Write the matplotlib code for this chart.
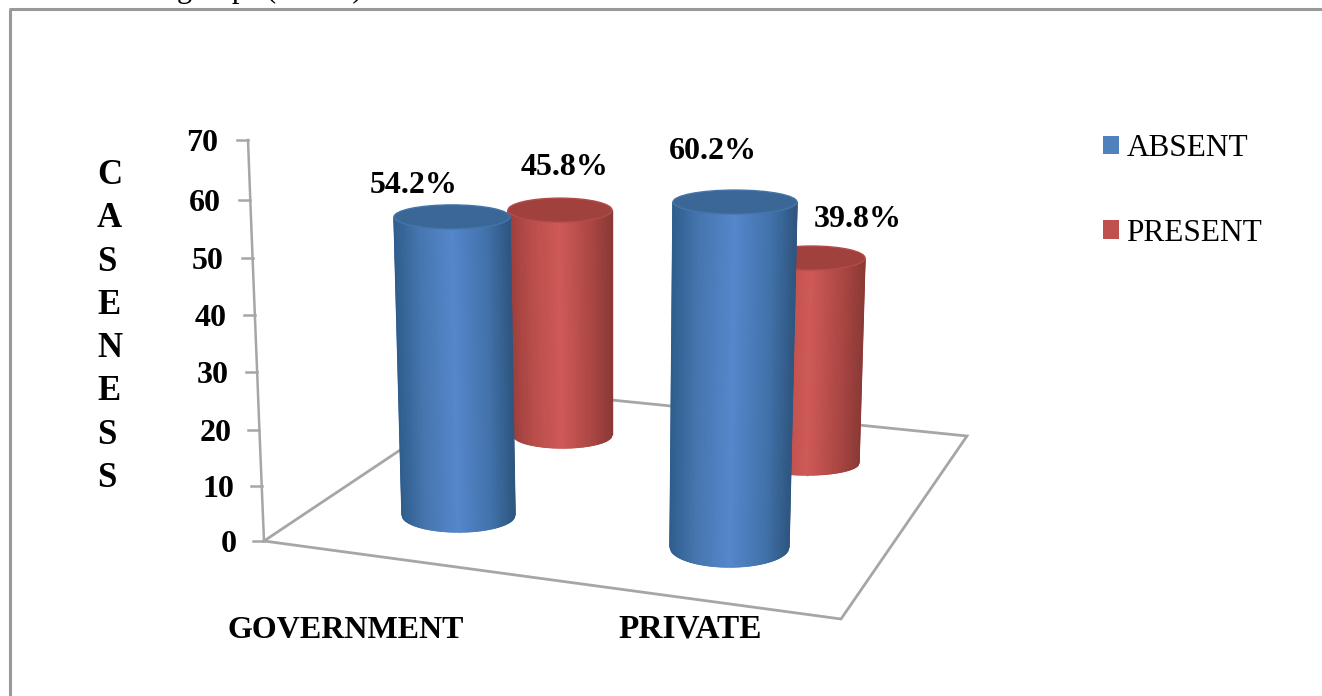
import numpy as np
import matplotlib
matplotlib.use("Agg")
import matplotlib.pyplot as plt
from matplotlib.collections import LineCollection
from matplotlib.colors import LinearSegmentedColormap
from matplotlib.patches import Ellipse, Patch

plt.rcParams['font.family'] = ['Liberation Serif', 'DejaVu Serif']

categories = ["GOVERNMENT", "PRIVATE"]
absent = [54.2, 60.2]
present = [45.8, 39.8]
y_ticks = [0, 10, 20, 30, 40, 50, 60, 70]
y_title = "CASENESS"

# screen layout, everything below is in pixels
W, H = 1322, 696
tick_px = [541, 486, 430, 372, 315, 258, 200, 140]
floor = [(264, 541), (841, 619), (967, 436), (493, 388), (264, 541)]
grey = "#a6a6a6"

blue_map = LinearSegmentedColormap.from_list("blue3d", [
    (0, "#2f5e8e"), (0.22, "#4777b0"), (0.5, "#5587cc"), (0.8, "#4272aa"), (1, "#2e5680")])
red_map = LinearSegmentedColormap.from_list("red3d", [
    (0, "#9c3f3c"), (0.22, "#ba4e4b"), (0.5, "#cf5a57"), (0.8, "#ab4744"), (1, "#8c3a37")])


def cylinder(ax, value, scale, top_x, base_x, base_y, top_b, base_b, cmap, cap, rim):
    # height comes from the value, scale is pixels per unit at that floor depth
    top_y = base_y - value * scale
    u = np.linspace(0, 1, 80)
    arc = np.sqrt(1 - (2 * u - 1) ** 2)
    xt = top_x[0] + u * (top_x[1] - top_x[0])
    xb = base_x[0] + u * (base_x[1] - base_x[0])
    yb = base_y + base_b * arc
    X = np.vstack([xt, xb])
    Y = np.vstack([np.full_like(u, top_y), yb])
    C = np.vstack([u, u])
    ax.pcolormesh(X, Y, C, shading="gouraud", cmap=cmap, vmin=0, vmax=1, zorder=2)
    # gouraud meshes are not antialiased, so trace the outline to soften it
    segs = [[(xb[i], yb[i]), (xb[i + 1], yb[i + 1])] for i in range(len(u) - 1)]
    segs.append([(xt[0], top_y), (xb[0], yb[0])])
    segs.append([(xt[-1], top_y), (xb[-1], yb[-1])])
    colors = [cmap(i / (len(u) - 2)) for i in range(len(u) - 1)] + [cmap(0.0), cmap(1.0)]
    ax.add_collection(LineCollection(segs, colors=colors, linewidths=1.0, zorder=2))
    ax.add_patch(Ellipse(((top_x[0] + top_x[1]) / 2, top_y), top_x[1] - top_x[0], 2 * top_b,
                         facecolor=cap, edgecolor=rim, lw=1.0, zorder=2))


fig = plt.figure(figsize=(W / 100, H / 100), dpi=100)
ax = fig.add_axes([0, 0, 1, 1])

# page border and the line of body text cut off above it
ax.plot([10, 10], [H, 9], color="#999999", lw=2.2, solid_capstyle="butt")
ax.plot([9, W], [9, 9], color="#999999", lw=2.2, solid_capstyle="butt")
ax.text(177, -3.5, "group", fontsize=22, va="baseline", ha="left", color="black", clip_on=False)
ax.text(266, -3.5, "(" + " " * 10 + ")", fontsize=22, va="baseline", ha="left", color="black", clip_on=False)

# floor and value axis sit behind the cylinders
fx, fy = zip(*floor)
ax.plot(fx, fy, color=grey, lw=2.0, solid_joinstyle="miter", zorder=1)
axis_x = [264 - 16 * v / 70 for v in y_ticks]
ax.plot(axis_x, tick_px, color=grey, lw=1.8, zorder=1)
for v, px, x in zip(y_ticks, tick_px, axis_x):
    ax.plot([x - 11, x], [px, px], color=grey, lw=1.8, zorder=1)
    ax.text(x - 27 - 3 * v / 70, px, str(v), fontsize=23, fontweight="bold", ha="right", va="center_baseline")

# back row first so the blue cylinders sit in front
cylinder(ax, present[0], 4.91, (508, 612), (513, 612), 435, 12, 13, red_map, "#a0413e", "#b34c49")
cylinder(ax, absent[0], 5.50, (394, 510), (402, 515), 515, 12, 17, blue_map, "#3a6796", "#4474aa")
cylinder(ax, present[1], 5.15, (758, 865), (755, 859), 463, 12, 12, red_map, "#a0413e", "#b34c49")
cylinder(ax, absent[1], 5.73, (673, 797), (670, 789), 547, 12, 20, blue_map, "#3a6796", "#4474aa")

label_pos = [(414, 193), (713, 159), (565, 175), (858, 227)]
for val, (x, y) in zip(absent + present, label_pos):
    ax.text(x, y, f"{val}%", fontsize=23, fontweight="bold", ha="center", va="baseline")

for name, x, size in zip(categories, [346, 690], [23, 24]):
    ax.text(x, 638, name, fontsize=size, fontweight="bold", ha="center", va="baseline")

ax.text(97, 327, "\n".join(y_title), fontsize=25, fontweight="bold", ha="left", va="center",
        multialignment="left", linespacing=1.41)

handles = [Patch(facecolor="#4f81bd", label="ABSENT"), Patch(facecolor="#c0504d", label="PRESENT")]
ax.legend(handles=handles, loc="upper left", bbox_to_anchor=(1103, 134), bbox_transform=ax.transData,
          frameon=False, fontsize=22.5, handlelength=0.52, handleheight=0.52, handletextpad=0.23,
          labelspacing=1.78, borderpad=0, borderaxespad=0)

ax.set_xlim(0, W)
ax.set_ylim(H, 0)
ax.axis("off")
fig.savefig("out.png", dpi=100, facecolor="white")
